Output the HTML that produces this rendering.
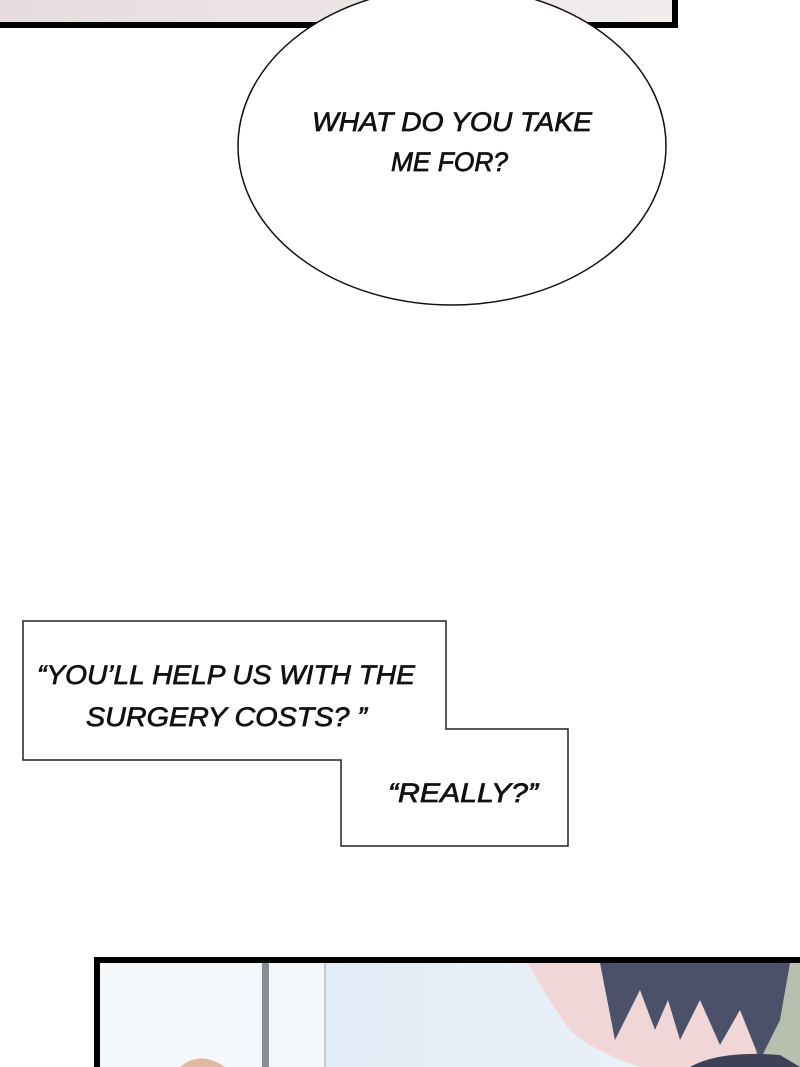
<!DOCTYPE html>
<html><head><meta charset="utf-8"><style>
html,body{margin:0;padding:0;background:#fff;}
svg{display:block}
text{font-family:"Liberation Sans",sans-serif;font-style:italic;fill:#111;stroke:#111;stroke-width:0.7;}
</style></head><body>
<svg width="800" height="1067" viewBox="0 0 800 1067" xmlns="http://www.w3.org/2000/svg">
<defs>
<linearGradient id="tp" x1="0" x2="1"><stop offset="0" stop-color="#e6dcdf"/><stop offset="1" stop-color="#f2eded"/></linearGradient>
<linearGradient id="sky" x1="0" x2="1"><stop offset="0" stop-color="#e2ecf6"/><stop offset="1" stop-color="#eef2f7"/></linearGradient>
</defs>
<rect x="0" y="0" width="678" height="28" fill="#000"/>
<rect x="0" y="0" width="672" height="22" fill="url(#tp)"/>
<ellipse cx="452" cy="146" rx="214" ry="159" fill="#fff" stroke="#111" stroke-width="1.5"/>
<text x="312" y="131" font-size="27" textLength="280" lengthAdjust="spacingAndGlyphs">WHAT DO YOU TAKE</text>
<text x="391" y="171" font-size="27" textLength="117" lengthAdjust="spacingAndGlyphs">ME FOR?</text>
<polygon points="23,621 446,621 446,729 568,729 568,846 341,846 341,760 23,760" fill="#fff" stroke="#222" stroke-width="1.5"/>
<text x="37" y="684" font-size="27" textLength="378" lengthAdjust="spacingAndGlyphs">“YOU’LL HELP US WITH THE</text>
<text x="86" y="726" font-size="27" textLength="281" lengthAdjust="spacingAndGlyphs">SURGERY COSTS? ”</text>
<text x="388" y="802" font-size="27" textLength="150" lengthAdjust="spacingAndGlyphs">“REALLY?”</text>
<rect x="94" y="957" width="706" height="110" fill="#000"/>
<rect x="100" y="963" width="700" height="104" fill="#f5f8fb"/>
<rect x="262" y="963" width="7" height="104" fill="#8a8e99"/>
<rect x="325" y="963" width="475" height="104" fill="url(#sky)"/>
<line x1="325" y1="963" x2="325" y2="1067" stroke="#9aa0aa" stroke-width="1"/>
<path d="M528,963 L800,963 L800,1067 L640,1067 Q590,1050 570,1030 Q545,995 528,963Z" fill="#f0d6d6"/>
<path d="M760,963 L800,963 L800,1067 L755,1067Z" fill="#b9bfae"/>
<path d="M600,963 L790,963 L780,1020 L760,1060 L740,1010 L720,1045 L700,1000 L680,1040 L668,1000 L655,1030 L640,990 L615,1040 Z" fill="#4a5168"/>
<path d="M690,1067 Q720,1050 780,1055 L800,1067Z" fill="#3d4258"/>
<path d="M180,1067 Q200,1050 225,1067Z" fill="#e0b9a3"/>
</svg>
</body></html>
